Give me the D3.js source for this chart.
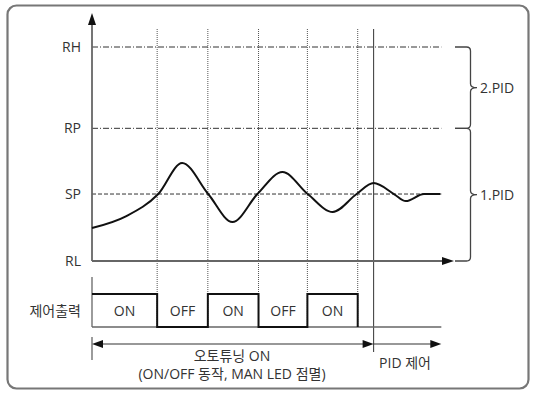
<!DOCTYPE html>
<html><head><meta charset="utf-8">
<script src="https://cdn.jsdelivr.net/npm/d3@7"></script>
<style>
html,body{margin:0;padding:0;background:#fff;}
svg text{font-family:'Open Sans','Noto Sans CJK KR',sans-serif;fill:#333;}
</style></head>
<body><svg id="c" width="533" height="393"></svg>
<script>
// ---- data ----
const levelNames = ["RH", "RP", "SP", "RL"];
const levelValues = [100, 62, 31.3, 0];
const pvTime  = [0, 9.5, 18.3, 24.9, 32.1, 38.8, 45.7, 52.6, 59.6, 66.5, 73.1, 77.8, 83.4, 86.7, 91.7, 96.2];
const pvValue = [15.4, 21.0, 31.3, 45.8, 31.3, 18.2, 31.3, 41.6, 31.3, 22.9, 31.3, 36.4, 31.3, 28.0, 31.3, 31.3];
const switchTimes = [0, 18, 32, 46, 59.5, 73.4];
const outputStates = ["ON", "OFF", "ON", "OFF", "ON"];
const pidStart = 77.8;
const lineEnd = 96.5;
const bandLabels = ["2.PID", "1.PID"];
const bandFrom = ["RP", "RL"];
const bandTo = ["RH", "RP"];
const outputLabel = "제어출력";
const autoTuneLines = ["오토튜닝 ON", "(ON/OFF 동작, MAN LED 점멸)"];
const pidLabel = "PID 제어";

// ---- scales ----
const svg = d3.select("#c");
const x = d3.scaleLinear().domain([0, 100]).range([92, 454]);
const y = d3.scaleLinear().domain([0, 100]).range([261, 47]);
const yOut = d3.scaleOrdinal().domain(["OFF", "ON"]).range([327, 294]);
const lv = name => levelValues[levelNames.indexOf(name)];
const FS = 14;

// frame
svg.append("rect").attr("x", 7.5).attr("y", 5.5).attr("width", 521).attr("height", 383)
  .attr("rx", 9).attr("fill", "none").attr("stroke", "#777").attr("stroke-width", 2.2);

// dotted verticals
svg.selectAll(".sw").data(switchTimes.slice(1)).join("line")
  .attr("x1", d => x(d)).attr("x2", d => x(d)).attr("y1", 29).attr("y2", 327)
  .attr("stroke", "#555").attr("stroke-width", 1).attr("stroke-dasharray", "1,1");
// solid PID start line
svg.append("line").attr("x1", x(pidStart)).attr("x2", x(pidStart)).attr("y1", 29).attr("y2", 352)
  .attr("stroke", "#333").attr("stroke-width", 1);

// level lines
levelNames.forEach((n, i) => {
  const v = levelValues[i];
  if (n !== "RL") {
    svg.append("line").attr("x1", x(0)).attr("x2", x(lineEnd)).attr("y1", y(v)).attr("y2", y(v))
      .attr("stroke", "#333").attr("stroke-width", 1)
      .attr("stroke-dasharray", n === "SP" ? "4,2" : "6,2,1,2");
  }
  svg.append("text").attr("x", 81).attr("y", y(v)).attr("dy", "0.35em")
    .attr("text-anchor", "end").attr("font-size", FS).text(n);
});

// axes
const axisCol = "#666";
svg.append("line").attr("x1", x(0)).attr("x2", x(0)).attr("y1", y(0)).attr("y2", 22)
  .attr("stroke", axisCol).attr("stroke-width", 1.8);
svg.append("path").attr("d", `M${x(0)},13 L${x(0)-4},25 L${x(0)+4},25 Z`).attr("fill", "#111");
svg.append("line").attr("x1", x(0)).attr("x2", x(100) - 6).attr("y1", y(0)).attr("y2", y(0))
  .attr("stroke", axisCol).attr("stroke-width", 1.8);
svg.append("path").attr("d", `M${x(100)},${y(0)} L${x(100)-12},${y(0)-4} L${x(100)-12},${y(0)+4} Z`).attr("fill", "#111");

// PV curve
const line = d3.line().x(d => x(d[0])).y(d => y(d[1])).curve(d3.curveMonotoneX);
svg.append("path").datum(pvTime.map((t, i) => [t, pvValue[i]]))
  .attr("d", line).attr("fill", "none").attr("stroke", "#111").attr("stroke-width", 2);

// braces
function brace(top, bot) {
  const bx = 455, vx = 470.5, tip = 477, mid = (top + bot) / 2, r = 4;
  return `M${bx},${top} H${vx - r} Q${vx},${top} ${vx},${top + r} V${mid - 4} Q${vx},${mid} ${tip},${mid} Q${vx},${mid} ${vx},${mid + 4} V${bot - r} Q${vx},${bot} ${vx - r},${bot} H${bx}`;
}
bandLabels.forEach((lab, i) => {
  const top = y(lv(bandTo[i])), bot = y(lv(bandFrom[i]));
  svg.append("path").attr("d", brace(top, bot)).attr("fill", "none").attr("stroke", "#444").attr("stroke-width", 1.3);
  svg.append("text").attr("x", 480).attr("y", (top + bot) / 2).attr("dy", "0.35em")
    .attr("font-size", FS).text(lab);
});

// control output
svg.append("text").attr("x", 81).attr("y", 311).attr("dy", "0.35em").attr("text-anchor", "end")
  .attr("font-size", FS).text(outputLabel);
svg.append("line").attr("x1", x(0)).attr("x2", x(0)).attr("y1", 277).attr("y2", 327)
  .attr("stroke", axisCol).attr("stroke-width", 1.3);
svg.append("line").attr("x1", x(0)).attr("x2", x(lineEnd)).attr("y1", 327).attr("y2", 327)
  .attr("stroke", axisCol).attr("stroke-width", 1.3);
let stepPts = [];
outputStates.forEach((s, i) => {
  stepPts.push([switchTimes[i], s]);
  stepPts.push([switchTimes[i + 1], s]);
});
stepPts.push([switchTimes[switchTimes.length - 1], "OFF"]);
svg.append("path").attr("d", d3.line().x(d => x(d[0])).y(d => yOut(d[1]))(stepPts))
  .attr("fill", "none").attr("stroke", "#111").attr("stroke-width", 2);
svg.selectAll(".st").data(outputStates).join("text")
  .attr("x", (d, i) => (x(switchTimes[i]) + x(switchTimes[i + 1])) / 2)
  .attr("y", 311).attr("dy", "0.35em").attr("text-anchor", "middle").attr("font-size", FS).text(d => d);

// range arrows
const ay = 344;
svg.append("line").attr("x1", x(0)).attr("x2", x(0)).attr("y1", 337).attr("y2", 360)
  .attr("stroke", axisCol).attr("stroke-width", 1.3);
svg.append("line").attr("x1", x(0) + 8).attr("x2", x(pidStart) - 8).attr("y1", ay).attr("y2", ay)
  .attr("stroke", "#333").attr("stroke-width", 1.2);
svg.append("path").attr("d", `M${x(0)},${ay} L${x(0)+11},${ay-4} L${x(0)+11},${ay+4} Z`).attr("fill", "#111");
svg.append("path").attr("d", `M${x(pidStart)},${ay} L${x(pidStart)-11},${ay-4} L${x(pidStart)-11},${ay+4} Z`).attr("fill", "#111");
svg.append("line").attr("x1", x(pidStart)).attr("x2", x(lineEnd) - 8).attr("y1", ay).attr("y2", ay)
  .attr("stroke", "#333").attr("stroke-width", 1.2);
svg.append("path").attr("d", `M${x(lineEnd)},${ay} L${x(lineEnd)-11},${ay-4} L${x(lineEnd)-11},${ay+4} Z`).attr("fill", "#111");

autoTuneLines.forEach((t, i) => {
  svg.append("text").attr("x", 232).attr("y", 356 + i * 18).attr("dy", "0.35em")
    .attr("text-anchor", "middle").attr("font-size", FS).text(t);
});
svg.append("text").attr("x", 405).attr("y", 363).attr("dy", "0.35em")
  .attr("text-anchor", "middle").attr("font-size", FS).text(pidLabel);
</script></body></html>
